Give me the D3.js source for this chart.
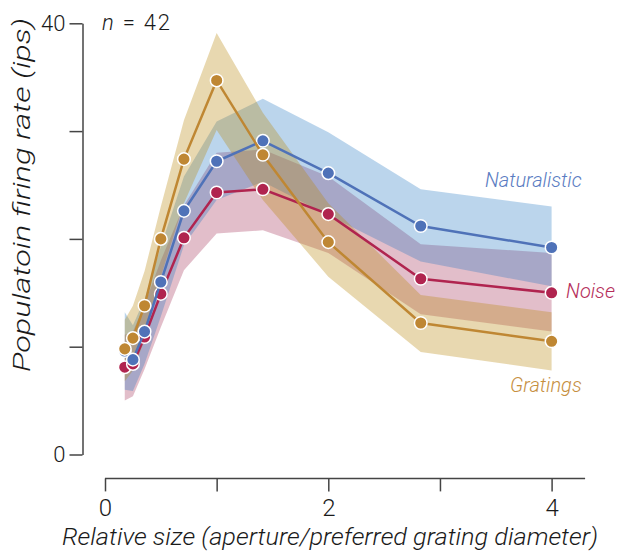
<!DOCTYPE html>
<html>
<head>
<meta charset="utf-8">
<script src="https://cdn.jsdelivr.net/npm/d3@7"></script>
<style>
  body { margin: 0; background: #fff; }
  svg text { font-family: Roboto, "Liberation Sans", sans-serif; font-weight: 300; fill: #1a1a1a; }
</style>
</head>
<body>
<svg id="chart" width="617" height="555"></svg>
<script>
// relative size of the aperture (x)
const sizes = [0.177, 0.25, 0.354, 0.5, 0.707, 1, 1.414, 2, 2.828, 4]

// Naturalistic
const natMean  = [9.6, 8.8, 11.4, 16.0, 22.6, 27.2, 29.1, 26.1, 21.2, 19.2]
const natLower = [6.0, 5.9, 8.4, 12.8, 19.4, 23.6, 25.3, 22.2, 17.9, 15.6]
const natUpper = [13.2, 12.0, 14.4, 19.3, 25.8, 30.9, 33.0, 29.9, 24.6, 23.0]

// Noise
const noiseMean  = [8.1, 8.4, 10.9, 14.9, 20.1, 24.3, 24.6, 22.3, 16.3, 15.0]
const noiseLower = [5.0, 5.4, 7.9, 11.8, 17.1, 20.5, 20.8, 18.7, 13.0, 11.4]
const noiseUpper = [11.1, 11.4, 13.9, 18.0, 23.1, 28.0, 28.3, 25.8, 19.5, 18.7]

// Gratings
const gratMean  = [9.8, 10.8, 13.8, 20.0, 27.4, 34.7, 27.8, 19.7, 12.2, 10.5]
const gratLower = [6.8, 7.8, 10.6, 16.5, 23.3, 30.1, 23.6, 16.5, 9.5, 7.8]
const gratUpper = [12.5, 13.8, 17.0, 23.0, 31.0, 39.1, 31.7, 23.3, 14.8, 13.2]

const xTicks = [0, 1, 2, 3, 4]
const xLabels = [0, 2, 4]
const yTicks = [0, 10, 20, 30, 40]
const yLabels = [0, 40]

// draw order: noise, naturalistic, gratings (gratings on top)
const series = [
  { name: 'Noise', mean: noiseMean, lower: noiseLower, upper: noiseUpper,
    line: '#b0244f', fill: 'rgb(160,40,80)', alpha: 0.3 },
  { name: 'Naturalistic', mean: natMean, lower: natLower, upper: natUpper,
    line: '#4f72b8', fill: 'rgb(29,115,192)', alpha: 0.3 },
  { name: 'Gratings', mean: gratMean, lower: gratLower, upper: gratUpper,
    line: '#bf8733', fill: 'rgb(185,137,16)', alpha: 0.33 }
]

const labels = [
  { text: 'Naturalistic', x: 4.27, y: 24.8, anchor: 'end', color: '#5a7cc2' },
  { text: 'Noise', x: 4.13, y: 14.5, anchor: 'start', color: '#b52d5a' },
  { text: 'Gratings', x: 4.27, y: 5.8, anchor: 'end', color: '#c68f3f' }
]

const svg = d3.select('#chart')

const x = d3.scaleLinear().domain([0, 4]).range([105, 551.6])
const y = d3.scaleLinear().domain([0, 40]).range([454.5, 23.3])

// axes
const xAxisY = 478.4
const gx = svg.append('g')
  .attr('transform', `translate(0,${xAxisY})`)
  .call(d3.axisBottom(x)
    .tickValues(xTicks)
    .tickSize(13)
    .tickSizeOuter(0)
    .tickPadding(8)
    .tickFormat(d => xLabels.includes(d) ? d : ''))
gx.select('.domain').remove()
gx.append('line')
  .attr('x1', x(0)).attr('x2', x(4.3))
  .attr('stroke', '#444').attr('stroke-width', 1.5)
gx.selectAll('.tick line').attr('stroke', '#444').attr('stroke-width', 1.5)
gx.selectAll('.tick text').style('font-size', '24px')

const gy = svg.append('g')
  .attr('transform', 'translate(82.5,0)')
  .call(d3.axisLeft(y)
    .tickValues(yTicks)
    .tickSize(13)
    .tickSizeOuter(0)
    .tickPadding(4)
    .tickFormat(d => yLabels.includes(d) ? d : ''))
gy.select('.domain').attr('stroke', '#444').attr('stroke-width', 1.5)
gy.selectAll('.tick line').attr('stroke', '#444').attr('stroke-width', 1.5)
gy.selectAll('.tick text').style('font-size', '22px')

// error bands
const area = d3.area()
  .x(d => x(d.s))
  .y0(d => y(d.lo))
  .y1(d => y(d.hi))

const line = d3.line()
  .x(d => x(d.s))
  .y(d => y(d.m))

const rows = s => sizes.map((v, i) => ({ s: v, m: s.mean[i], lo: s.lower[i], hi: s.upper[i] }))

series.forEach(s => {
  svg.append('path')
    .attr('d', area(rows(s)))
    .attr('fill', s.fill)
    .attr('fill-opacity', s.alpha)
})

// lines and points
series.forEach(s => {
  const g = svg.append('g')
  g.append('path')
    .attr('d', line(rows(s)))
    .attr('fill', 'none')
    .attr('stroke', s.line)
    .attr('stroke-width', 2.5)
  g.selectAll('circle')
    .data(rows(s))
    .join('circle')
    .attr('cx', d => x(d.s))
    .attr('cy', d => y(d.m))
    .attr('r', 6.3)
    .attr('fill', s.line)
    .attr('stroke', '#fff')
    .attr('stroke-width', 1.5)
})

// series labels
svg.selectAll('.series-label')
  .data(labels)
  .join('text')
  .attr('class', 'series-label')
  .attr('x', d => x(d.x))
  .attr('y', d => y(d.y))
  .attr('text-anchor', d => d.anchor)
  .style('font-size', '20px')
  .style('font-style', 'italic')
  .style('fill', d => d.color)
  .text(d => d.text)

// n label
const nText = svg.append('text')
  .attr('x', 102)
  .attr('y', 29.5)
  .attr('textLength', 68)
  .attr('lengthAdjust', 'spacing')
  .style('font-size', '22px')
nText.append('tspan').style('font-style', 'italic').text('n')
nText.append('tspan').text(' = 42')

// axis titles
svg.append('text')
  .attr('x', 330)
  .attr('y', 545)
  .attr('text-anchor', 'middle')
  .attr('textLength', 536)
  .attr('lengthAdjust', 'spacingAndGlyphs')
  .style('font-size', '24px')
  .style('font-style', 'italic')
  .text('Relative size (aperture/preferred grating diameter)')

svg.append('text')
  .attr('transform', 'translate(30,195) rotate(-90)')
  .attr('text-anchor', 'middle')
  .attr('textLength', 354)
  .attr('lengthAdjust', 'spacingAndGlyphs')
  .style('font-size', '24px')
  .style('font-style', 'italic')
  .text('Populatoin firing rate (ips)')
</script>
</body>
</html>
